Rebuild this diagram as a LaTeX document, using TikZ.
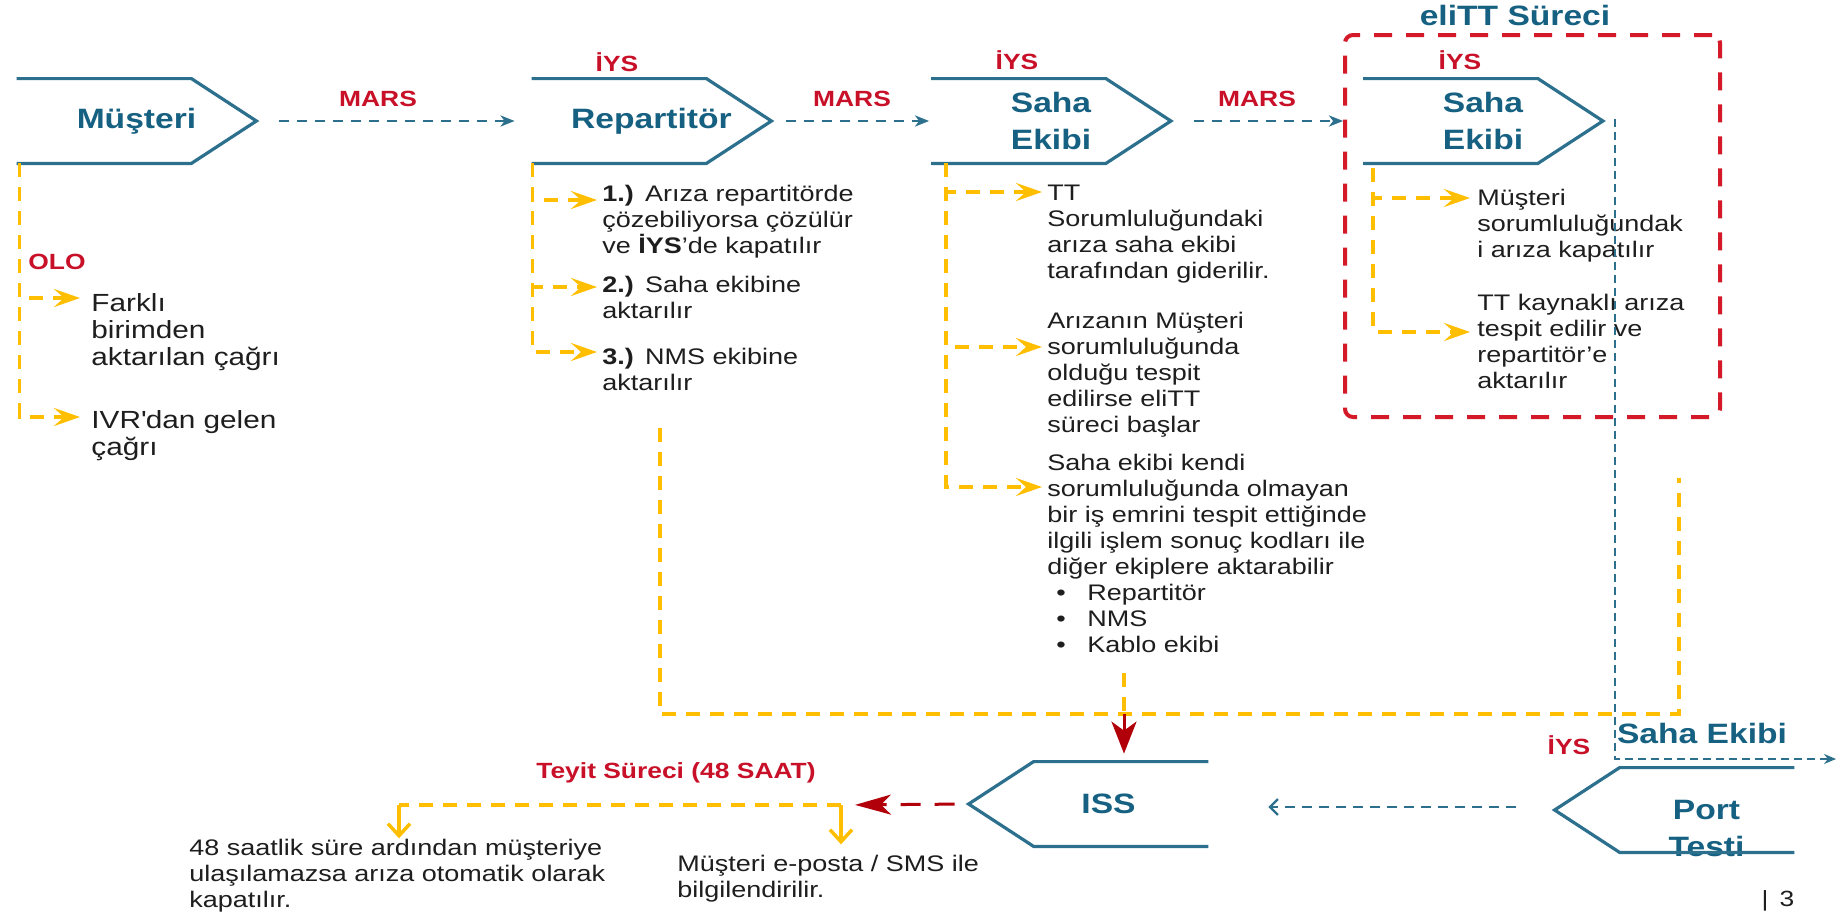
\documentclass[tikz,border=0pt]{standalone}
\usepackage{fontspec}
\setmainfont{Liberation Sans}[FakeStretch=1.2]
\usetikzlibrary{arrows.meta,calc}

\definecolor{stageblue}{RGB}{44,112,142}
\definecolor{titleblue}{RGB}{22,96,130}
\definecolor{marsred}{RGB}{200,16,40}
\definecolor{flowyellow}{RGB}{255,190,0}
\definecolor{boxred}{RGB}{212,26,40}
\definecolor{tipred}{RGB}{178,0,10}
\definecolor{bodygray}{RGB}{30,30,30}

\newcommand\bul{\makebox[20pt][l]{\hspace{4.5pt}\textbullet}}

\begin{document}
\begin{tikzpicture}[x=0.5pt, y=-0.5pt]
  \tikzstyle{stagetext}=[inner sep=0pt, align=center, text=titleblue,
    font=\fontsize{14}{18.5}\selectfont\bfseries]
  \tikzstyle{stagebox}=[stagetext, minimum width=119.5pt, minimum height=42pt]
  \tikzstyle{stageline}=[draw=stageblue, line width=1.6pt]
  \tikzstyle{bodytext}=[inner sep=0pt, anchor=base west, text width=240pt, align=left,
    text=bodygray, font=\fontsize{11.25}{13}\selectfont]
  \tikzstyle{bigtext}=[bodytext, font=\fontsize{12.4}{13.5}\selectfont]
  \tikzstyle{redtag}=[inner sep=0pt, text=marsred, font=\fontsize{11}{13}\selectfont\bfseries]
  \tikzstyle{yline}=[draw=flowyellow, line width=1.75pt, dash pattern=on 7pt off 5pt]
  \tikzstyle{yarrow}=[yline, -{Stealth[length=13pt,width=9pt,inset=5pt]}]
  \tikzstyle{ydown}=[draw=flowyellow, line width=1.75pt, -{Straight Barb[length=6pt,width=11pt]}]
  \tikzstyle{marsarrow}=[draw=stageblue, line width=1.25pt, dash pattern=on 5pt off 4pt,
    -{Stealth[length=7pt,width=5.5pt,inset=2pt]}]

  \useasboundingbox (0,0) rectangle (1837,911);
  \fill[white] (0,0) rectangle (1837,911);

  % stages
  \node[stagebox] (must) at (136.5,121) {Müşteri};
  \node[stagebox] (rep) at (651.5,121) {Repartitör};
  \node[stagebox] (saha) at (1051,121) {Saha\\Ekibi};
  \node[stagebox] (elsaha) at (1483,121) {Saha\\Ekibi};
  \node[stagebox, label={[stagetext, xshift=10pt]center:ISS}] (iss) at (1088.5,804) {};
  \node[stagebox, label={[stagetext, xshift=16pt, yshift=-9pt]center:Port\\Testi}]
    (port) at (1674.5,810) {};

  \foreach \n in {must,rep,saha,elsaha}
    \draw[stageline] (\n.north west) -- ($(\n.north east)+(-65,0)$) -- (\n.east)
      -- ($(\n.south east)+(-65,0)$) -- (\n.south west);
  \foreach \n in {iss,port}
    \draw[stageline] (\n.north east) -- ($(\n.north west)+(65,0)$) -- (\n.west)
      -- ($(\n.south west)+(65,0)$) -- (\n.south east);

  % eliTT box
  \node[draw=boxred, line width=2pt, dash pattern=on 9pt off 7pt, rounded corners=4pt,
    minimum width=187.5pt, minimum height=191pt, inner sep=0pt] (elitt) at (1532.5,226) {};
  \node[stagetext] (elitt-title) at (1515,15) {eliTT Süreci};

  % labels
  \foreach \x/\n in {378/1, 852/2, 1257/3}
    \node[redtag] (mars\n) at (\x,99) {MARS};
  \foreach \x/\y/\n in {617/62/1, 1017/60/2, 1460/60/3, 1569/745/4}
    \node[redtag] (iys\n) at (\x,\y) {İYS};
  \node[redtag, anchor=west] (olo) at (28,262) {OLO};
  \node[redtag] (teyit) at (676,773) {Teyit Süreci (48 SAAT)};
  \node[stagetext] (port-saha) at (1702,733) {Saha Ekibi};

  % texts
  \node[bigtext] (farkli) at (91,311) {Farklı\\birimden\\aktarılan çağrı};
  \node[bigtext] (ivr) at (91,428) {IVR\textquotesingle dan gelen\\çağrı};
  \node[bodytext] (rep1) at (602,201) {\textbf{1.)} Arıza repartitörde\\çözebiliyorsa çözülür\\ve \textbf{İYS}'de kapatılır};
  \node[bodytext] (rep2) at (602,292) {\textbf{2.)} Saha ekibine\\aktarılır};
  \node[bodytext] (rep3) at (602,364) {\textbf{3.)} NMS ekibine\\aktarılır};
  \node[bodytext] (tt) at (1047,200) {TT\\Sorumluluğundaki\\arıza saha ekibi\\tarafından giderilir.};
  \node[bodytext] (ariza) at (1047,328) {Arızanın Müşteri\\sorumluluğunda\\olduğu tespit\\edilirse eliTT\\süreci başlar};
  \node[bodytext] (kendi) at (1047,470) {Saha ekibi kendi\\sorumluluğunda olmayan\\bir iş emrini tespit ettiğinde\\ilgili işlem sonuç kodları ile\\diğer ekiplere aktarabilir\\\bul Repartitör\\\bul NMS\\\bul Kablo ekibi};
  \node[bodytext] (musres) at (1477,205) {Müşteri\\sorumluluğundak\\i arıza kapatılır};
  \node[bodytext] (ttk) at (1477,310) {TT kaynaklı arıza\\tespit edilir ve\\repartitör'e\\aktarılır};
  \node[bodytext] (bot1) at (189,855) {48 saatlik süre ardından müşteriye\\ulaşılamazsa arıza otomatik olarak\\kapatılır.};
  \node[bodytext] (bot2) at (677,871) {Müşteri e-posta / SMS ile\\bilgilendirilir.};
  \node[inner sep=0pt, text=bodygray, font=\fontsize{11}{12}\selectfont] (pageno) at (1778,901) {|\enspace 3};

  % MARS flow
  \draw[marsarrow, shorten <=11.5pt, shorten >=8.5pt] (must.east) -- (rep.west);
  \draw[marsarrow, shorten <=7.5pt, shorten >=1pt] (rep.east) -- (saha.west);
  \draw[marsarrow, shorten <=11.5pt, shorten >=10pt] (saha.east) -- (elsaha.west);

  % yellow branches
  \coordinate (must-stem) at ($(must.south west)+(3,0)$);
  \coordinate (rep-stem) at ($(rep.south west)+(1,0)$);
  \coordinate (saha-stem) at ($(saha.south west)+(15,0)$);
  \coordinate (elsaha-stem) at ($(elsaha.south west)+(10,5)$);
  \foreach \s/\t/\dx/\dy in {must/farkli/-11/-13, must/ivr/-11/-11,
      rep/rep1/-5/-1, rep/rep2/-5/-5, rep/rep3/-5/-12,
      saha/tt/-5/-8, saha/ariza/-5/19, saha/kendi/-5/17,
      elsaha/musres/-7/-7, elsaha/ttk/-7/22}
    \draw[yarrow] (\s-stem) |- ($(\t.base west)+(\dx,\dy)$);

  % to ISS
  \coordinate (rep-out) at (660,428);
  \coordinate (kendi-out) at (1124,673);
  \coordinate (elitt-out) at (1679,478);
  \coordinate (merge) at (1124,714);
  \draw[yline] (rep-out) |- (merge) -| (elitt-out);
  \draw[yline] (kendi-out) -- (merge);
  \draw[draw=tipred, line width=1.5pt, -{Stealth[length=16pt,width=12.5pt,inset=4.5pt]},
    shorten >=4pt] (merge) -- (merge |- iss.north);

  % port test
  \coordinate (offpage) at (1836,759);
  \draw[draw=stageblue, line width=0.8pt, dash pattern=on 4pt off 2.5pt,
    -{Stealth[length=6pt,width=5pt]}] ($(elsaha.east)+(12,-2)$) |- (offpage);
  \draw[draw=stageblue, line width=1.1pt, dash pattern=on 5pt off 3.5pt,
    -{Straight Barb[length=4pt,width=8pt]}, shorten <=19.5pt, shorten >=30pt]
    ([yshift=1.5pt]port.west) -- ([yshift=1.5pt]port.west -| iss.east);

  % confirmation
  \coordinate (tey-l) at (399,805);
  \coordinate (tey-r) at (841,805);
  \draw[draw=tipred, line width=1.5pt, dash pattern=on 10pt off 7pt,
    -{Stealth[length=18pt,width=10pt,inset=5pt]}, shorten <=7pt, shorten >=7pt]
    (iss.west) -- (tey-r);
  \draw[yline] (tey-r) -- (tey-l);
  \draw[ydown] (tey-l) -- (tey-l |- bot1.north);
  \draw[ydown, shorten >=5pt] (tey-r) -- (tey-r |- bot2.north);
\end{tikzpicture}
\end{document}
